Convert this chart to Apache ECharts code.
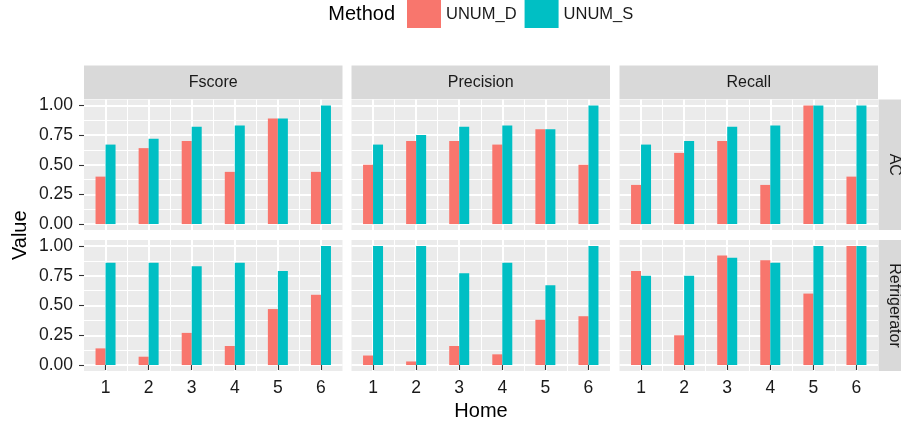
<!DOCTYPE html>
<html>
<head>
<meta charset="utf-8">
<script src="https://cdn.jsdelivr.net/npm/echarts@6/dist/echarts.min.js"></script>
<style>
html,body{margin:0;padding:0;background:#fff;}
#chart{width:901px;height:429px;}
</style>
</head>
<body>
<div id="chart"></div>
<script>
// ---- data ----
const homes = ['1', '2', '3', '4', '5', '6'];
const metrics = ['Fscore', 'Precision', 'Recall'];
const appliances = ['AC', 'Refrigerator'];
const methods = ['UNUM_D', 'UNUM_S'];
const yTicks = [0, 0.25, 0.5, 0.75, 1];
const yMinorTicks = [0.125, 0.375, 0.625, 0.875];
const xTicks = [1, 2, 3, 4, 5, 6];

const acFscoreD = [0.40, 0.64, 0.70, 0.44, 0.89, 0.44];
const acFscoreS = [0.67, 0.72, 0.82, 0.83, 0.89, 1.00];
const acPrecisionD = [0.50, 0.70, 0.70, 0.67, 0.80, 0.50];
const acPrecisionS = [0.67, 0.75, 0.82, 0.83, 0.80, 1.00];
const acRecallD = [0.33, 0.60, 0.70, 0.33, 1.00, 0.40];
const acRecallS = [0.67, 0.70, 0.82, 0.83, 1.00, 1.00];
const refFscoreD = [0.14, 0.07, 0.27, 0.16, 0.47, 0.59];
const refFscoreS = [0.86, 0.86, 0.83, 0.86, 0.79, 1.00];
const refPrecisionD = [0.08, 0.03, 0.16, 0.09, 0.38, 0.41];
const refPrecisionS = [1.00, 1.00, 0.77, 0.86, 0.67, 1.00];
const refRecallD = [0.79, 0.25, 0.92, 0.88, 0.60, 1.00];
const refRecallS = [0.75, 0.75, 0.90, 0.86, 1.00, 1.00];

const panelData = [
  [[acFscoreD, acFscoreS], [acPrecisionD, acPrecisionS], [acRecallD, acRecallS]],
  [[refFscoreD, refFscoreS], [refPrecisionD, refPrecisionS], [refRecallD, refRecallS]]
];

// ---- layout / style ----
const FONT = '"Liberation Sans", Arial, Helvetica, sans-serif';
const colors = ['#F8766D', '#00BFC4'];
const colLeft = [84, 351.5, 619.5];
const panelW = 258.5;
const rowTop = [99.5, 240];
const panelH = [130.5, 131];
const stripH = 34;
const stripW = 34;

const grids = [], xAxes = [], yAxes = [], series = [], graphics = [];

for (let r = 0; r < 2; r++) {
  for (let c = 0; c < 3; c++) {
    const g = grids.length;
    grids.push({
      left: colLeft[c], top: rowTop[r], width: panelW, height: panelH[r],
      show: true, backgroundColor: '#EBEBEB', borderWidth: 0, containLabel: false
    });
    const bottomRow = r === 1;
    const leftCol = c === 0;
    // category axis (data, minor vertical grid at boundaries)
    xAxes.push({
      type: 'category', gridIndex: g, data: homes, boundaryGap: true,
      axisLine: {show: false},
      axisTick: {show: bottomRow, alignWithLabel: true, length: 5, lineStyle: {color: '#333333', width: 1.1}},
      axisLabel: {show: bottomRow, margin: 8, fontSize: 17.5, color: '#1a1a1a', fontFamily: FONT},
      splitLine: {show: true, showMinLine: false, showMaxLine: false, lineStyle: {color: '#ffffff', width: 1}}
    });
    // value axis for major vertical grid lines
    xAxes.push({
      type: 'value', gridIndex: g, min: 0.5, max: 6.5, position: 'top',
      axisLine: {show: false},
      axisTick: {show: false, customValues: xTicks},
      axisLabel: {show: false, customValues: xTicks},
      splitLine: {show: true, lineStyle: {color: '#ffffff', width: 2}}
    });
    // main y axis
    yAxes.push({
      type: 'value', gridIndex: g, min: -0.05, max: 1.05,
      axisLine: {show: false},
      axisTick: {show: leftCol, customValues: yTicks, length: 5, lineStyle: {color: '#333333', width: 1.1}},
      axisLabel: {show: leftCol, customValues: yTicks, margin: 11, fontSize: 17.5, color: '#1a1a1a', fontFamily: FONT,
        formatter: v => Number(v).toFixed(2)},
      splitLine: {show: true, lineStyle: {color: '#ffffff', width: 2}}
    });
    // minor y grid
    yAxes.push({
      type: 'value', gridIndex: g, min: -0.05, max: 1.05, position: 'right',
      axisLine: {show: false},
      axisTick: {show: false, customValues: yMinorTicks},
      axisLabel: {show: false, customValues: yMinorTicks},
      splitLine: {show: true, lineStyle: {color: '#ffffff', width: 1}}
    });
    for (let m = 0; m < 2; m++) {
      series.push({
        type: 'bar', name: methods[m], xAxisIndex: 2 * g, yAxisIndex: 2 * g,
        data: panelData[r][c][m], barWidth: 10, barGap: '0%',
        itemStyle: {color: colors[m]}, emphasis: {disabled: true}, z: 3
      });
    }
  }
}

// top strips
for (let c = 0; c < 3; c++) {
  graphics.push({type: 'rect', left: colLeft[c], top: rowTop[0] - stripH,
    shape: {width: panelW, height: stripH - 0.5}, style: {fill: '#D9D9D9'}, silent: true});
  graphics.push({type: 'text', x: colLeft[c] + panelW / 2, y: rowTop[0] - stripH / 2,
    style: {text: metrics[c], fill: '#1a1a1a', font: '16px ' + FONT, align: 'center', verticalAlign: 'middle'}, silent: true});
}
// right strips
const stripX = colLeft[2] + panelW + 0.5;
for (let r = 0; r < 2; r++) {
  graphics.push({type: 'rect', left: stripX, top: rowTop[r],
    shape: {width: stripW, height: panelH[r]}, style: {fill: '#D9D9D9'}, silent: true});
  graphics.push({type: 'text', x: stripX + 15.5, y: rowTop[r] + panelH[r] / 2, rotation: -Math.PI / 2,
    style: {text: appliances[r], fill: '#1a1a1a', font: '16px ' + FONT, align: 'center', verticalAlign: 'middle'}, silent: true});
}
// axis titles
graphics.push({type: 'text', x: 20, y: (rowTop[0] + rowTop[1] + panelH[1]) / 2, rotation: Math.PI / 2,
  style: {text: 'Value', fill: '#000', font: '20px ' + FONT, align: 'center', verticalAlign: 'middle'}, silent: true});
graphics.push({type: 'text', x: colLeft[0] + (colLeft[2] + panelW - colLeft[0]) / 2, y: 411,
  style: {text: 'Home', fill: '#000', font: '20px ' + FONT, align: 'center', verticalAlign: 'middle'}, silent: true});
// legend title
graphics.push({type: 'text', x: 395, y: 14,
  style: {text: 'Method', fill: '#000', font: '20px ' + FONT, align: 'right', verticalAlign: 'middle'}, silent: true});

const chart = echarts.init(document.getElementById('chart'), null, {renderer: 'canvas'});
chart.setOption({
  animation: false,
  backgroundColor: '#ffffff',
  grid: grids,
  xAxis: xAxes,
  yAxis: yAxes,
  legend: {
    data: methods, left: 407, top: 0, orient: 'horizontal', icon: 'rect',
    itemWidth: 34, itemHeight: 28, itemGap: 8, padding: 0,
    selectedMode: false,
    textStyle: {fontSize: 16.5, color: '#1a1a1a', fontFamily: FONT}
  },
  graphic: graphics,
  series: series
});
</script>
</body>
</html>
